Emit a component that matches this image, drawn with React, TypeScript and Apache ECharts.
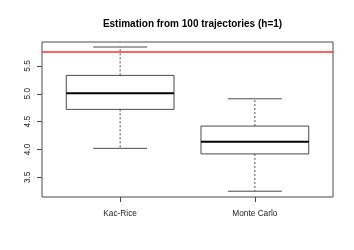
import React, { useEffect, useRef } from "react";
import * as echarts from "echarts";

const categories = ["Kac-Rice", "Monte Carlo"];
const positions = [1, 2];
// [lower whisker, Q1, median, Q3, upper whisker]
const kacRice = [4.02, 4.72, 5.01, 5.33, 5.84];
const monteCarlo = [3.25, 3.92, 4.14, 4.42, 4.91];
const trueValue = 5.75;
const yTicks = [3.5, 4.0, 4.5, 5.0, 5.5];
const title = "Estimation from 100 trajectories (h=1)";

export default function App() {
  const ref = useRef<HTMLDivElement>(null);
  useEffect(() => {
    if (!ref.current) return;
    const chart = echarts.init(ref.current, null, { renderer: "svg" });
    const stats = [kacRice, monteCarlo];
    const data = positions.map((p, i) => [p, ...stats[i]]);
    const lineCol = "#4a4a4a";
    chart.setOption({
      animation: false,
      title: {
        text: title,
        left: 187.5,
        textAlign: "center",
        top: 13,
        textStyle: { fontFamily: "Liberation Sans", fontSize: 10, fontWeight: "bold", color: "#000" },
      },
      grid: { left: 42, right: 21, top: 42, bottom: 53, show: true, borderColor: lineCol, borderWidth: 1, backgroundColor: "transparent" },
      xAxis: {
        type: "value",
        min: 0.42,
        max: 2.58,
        splitLine: { show: false },
        axisLine: { show: false },
        axisTick: { show: true, length: 5, customValues: positions, lineStyle: { color: lineCol } },
        axisLabel: {
          customValues: positions,
          formatter: (v: number) => categories[Math.round(v) - 1] ?? "",
          fontFamily: "Liberation Sans",
          fontSize: 8.3,
          color: "#222",
          margin: 12,
        },
      },
      yAxis: {
        type: "value",
        min: 3.146,
        max: 5.93,
        splitLine: { show: false },
        axisLine: { show: false },
        axisTick: { show: true, length: 5, customValues: yTicks, lineStyle: { color: lineCol } },
        axisLabel: {
          customValues: yTicks,
          formatter: (v: number) => v.toFixed(1),
          rotate: 90,
          fontFamily: "Liberation Sans",
          fontSize: 8.3,
          color: "#222",
          margin: 11,
        },
      },
      series: [
        {
          type: "custom",
          data,
          clip: false,
          renderItem: (params: any, api: any) => {
            const x = api.value(0);
            const lo = api.coord([x, api.value(1)]);
            const q1 = api.coord([x, api.value(2)]);
            const md = api.coord([x, api.value(3)]);
            const q3 = api.coord([x, api.value(4)]);
            const hi = api.coord([x, api.value(5)]);
            const left = api.coord([x - 0.4, 0])[0];
            const right = api.coord([x + 0.4, 0])[0];
            const cl = api.coord([x - 0.2, 0])[0];
            const cr = api.coord([x + 0.2, 0])[0];
            const cx = lo[0];
            const st = { stroke: lineCol, lineWidth: 1 };
            const dashed = { stroke: lineCol, lineWidth: 1, lineDash: [2, 2] };
            return {
              type: "group",
              children: [
                { type: "line", shape: { x1: cx, y1: q3[1], x2: cx, y2: hi[1] }, style: dashed },
                { type: "line", shape: { x1: cx, y1: q1[1], x2: cx, y2: lo[1] }, style: dashed },
                { type: "line", shape: { x1: cl, y1: hi[1], x2: cr, y2: hi[1] }, style: st },
                { type: "line", shape: { x1: cl, y1: lo[1], x2: cr, y2: lo[1] }, style: st },
                { type: "rect", shape: { x: left, y: q3[1], width: right - left, height: q1[1] - q3[1] }, style: { fill: "#fff", stroke: lineCol, lineWidth: 1 } },
                { type: "line", shape: { x1: left, y1: md[1], x2: right, y2: md[1] }, style: { stroke: "#000", lineWidth: 2 } },
              ],
            };
          },
          markLine: {
            silent: true,
            symbol: "none",
            label: { show: false },
            lineStyle: { color: "#ff3030", width: 1.6, type: "solid" },
            data: [{ yAxis: trueValue }],
          },
        },
      ],
    });
    return () => chart.dispose();
  }, []);
  return <div ref={ref} style={{ position: "fixed", left: 0, top: 0, width: 354, height: 250 }} />;
}
